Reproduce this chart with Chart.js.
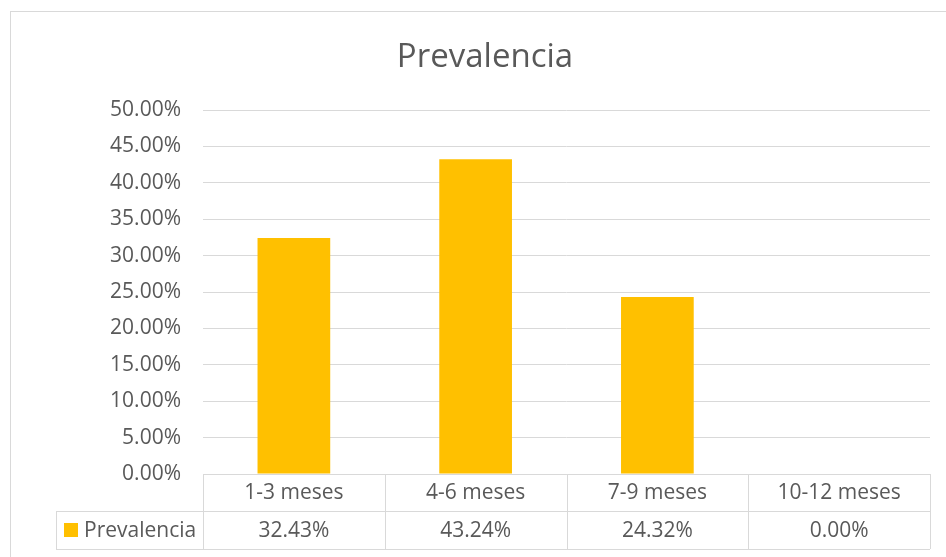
<!DOCTYPE html>
<html>
<head>
<meta charset="utf-8">
<script src="https://cdn.jsdelivr.net/npm/chart.js@4/dist/chart.umd.min.js"></script>
<style>
  html, body { margin: 0; padding: 0; background: #ffffff; }
  #wrap { width: 946px; height: 557px; position: relative; }
</style>
</head>
<body>
<div id="wrap"><canvas id="c" width="946" height="557"></canvas></div>
<script>
const chartTitle = "Prevalencia";
const seriesName = "Prevalencia";
const categories = ["1-3 meses", "4-6 meses", "7-9 meses", "10-12 meses"];
const values = [32.43, 43.24, 24.32, 0.00];
const yMin = 0, yMax = 50, yStep = 5;

const TEXT = "#595959";
const GRID = "#D9D9D9";
const BAR = "#FFC000";
const FONT = "'Open Sans', 'Noto Sans', sans-serif";
const FS = 21;

const fmtPct = v => Number(v).toFixed(2) + "%";

const tablePlugin = {
  id: "dataTable",
  beforeDraw(chart) {
    const ctx = chart.ctx;
    ctx.save();
    ctx.fillStyle = "#ffffff";
    ctx.fillRect(0, 0, chart.width, chart.height);
    ctx.strokeStyle = GRID;
    ctx.lineWidth = 1;
    ctx.strokeRect(10.5, 11.5, chart.width + 10, chart.height + 10);
    ctx.restore();
  },
  afterDraw(chart) {
    const ctx = chart.ctx;
    const area = chart.chartArea;
    const xs = chart.scales.x;
    const n = categories.length;
    const colW = (area.right - area.left) / n;
    const row1Top = area.bottom;
    const row1Bot = row1Top + 37;
    const row2Bot = row1Bot + 38;
    const legendLeft = 56;

    ctx.save();
    // title
    ctx.fillStyle = TEXT;
    ctx.font = "33px " + FONT;
    ctx.textAlign = "center";
    ctx.textBaseline = "alphabetic";
    ctx.fillText(chartTitle, 485, 67);

    ctx.strokeStyle = GRID;
    ctx.lineWidth = 1;
    const hline = (x1, x2, y) => { ctx.beginPath(); ctx.moveTo(x1, Math.round(y) + 0.5); ctx.lineTo(x2, Math.round(y) + 0.5); ctx.stroke(); };
    const vline = (x, y1, y2) => { ctx.beginPath(); ctx.moveTo(Math.round(x) + 0.5, y1); ctx.lineTo(Math.round(x) + 0.5, y2); ctx.stroke(); };

    hline(area.left, area.right, row1Top);
    hline(legendLeft, area.right, row1Bot);
    hline(legendLeft, area.right, row2Bot);
    vline(legendLeft, row1Bot, row2Bot);
    for (let i = 0; i <= n; i++) {
      vline(area.left + i * colW, row1Top, row2Bot);
    }

    ctx.fillStyle = TEXT;
    ctx.font = FS + "px " + FONT;
    ctx.textAlign = "center";
    ctx.textBaseline = "middle";
    for (let i = 0; i < n; i++) {
      const cx = xs.getPixelForValue(i);
      ctx.fillText(categories[i], cx, (row1Top + row1Bot) / 2 + 1);
      ctx.fillText(fmtPct(values[i]), cx, (row1Bot + row2Bot) / 2 + 1);
    }
    // legend key
    ctx.fillStyle = BAR;
    ctx.fillRect(64, (row1Bot + row2Bot) / 2 - 7, 14, 14);
    ctx.fillStyle = TEXT;
    ctx.textAlign = "left";
    ctx.fillText(seriesName, 84, (row1Bot + row2Bot) / 2 + 1);
    ctx.restore();
  }
};

new Chart(document.getElementById("c"), {
  type: "bar",
  data: {
    labels: categories,
    datasets: [{
      label: seriesName,
      data: values,
      backgroundColor: BAR,
      borderWidth: 0,
      barPercentage: 0.4,
      categoryPercentage: 1.0
    }]
  },
  options: {
    responsive: false,
    animation: false,
    devicePixelRatio: 1,
    layout: { padding: { left: 0, right: 16, top: 110, bottom: 83 } },
    plugins: {
      legend: { display: false },
      tooltip: { enabled: false },
      title: { display: false }
    },
    scales: {
      x: {
        display: false,
        grid: { display: false }
      },
      y: {
        min: yMin,
        max: yMax,
        border: { display: false },
        grid: { color: GRID, lineWidth: 1, drawTicks: false },
        ticks: {
          stepSize: yStep,
          color: TEXT,
          padding: 22,
          font: { family: FONT, size: FS },
          callback: v => fmtPct(v)
        },
        afterFit: s => { s.width = 203; }
      }
    }
  },
  plugins: [tablePlugin]
});
</script>
</body>
</html>
